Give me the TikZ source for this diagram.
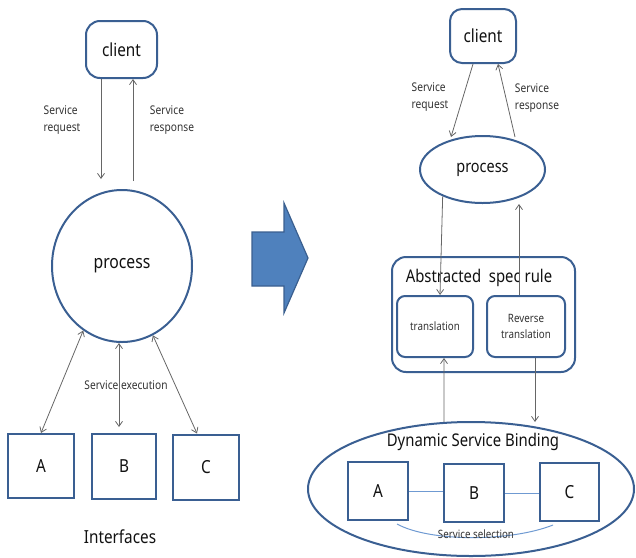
\documentclass[tikz,border=0pt]{standalone}
\usepackage{fontspec}
\setmainfont[FakeStretch=0.85]{Noto Sans}
\usetikzlibrary{arrows.meta,shapes.geometric,calc}
\definecolor{edge}{HTML}{3A5F92}
\definecolor{arrgray}{HTML}{666666}
\definecolor{blockfill}{HTML}{4F81BD}
\definecolor{blockedge}{HTML}{3A5F8F}
\definecolor{selblue}{HTML}{6F9AD2}
\definecolor{txt}{HTML}{111111}
\definecolor{lbl}{HTML}{333333}
\tikzset{
  shp/.style={draw=edge, line width=2pt, inner sep=0pt, text=txt},
  ell/.style={shp, ellipse},
  big/.style={font=\fontsize{18}{20}\selectfont, text=txt},
  mid/.style={font=\fontsize{17.5}{20}\selectfont, text=txt},
  small/.style={font=\fontsize{12}{17}\selectfont, text=lbl, align=left, inner sep=0pt},
  tiny/.style={font=\fontsize{11.5}{16}\selectfont, text=lbl, align=center, inner sep=0pt},
  arr/.style={draw=arrgray, line width=0.8pt, -{Straight Barb[length=5pt,width=7pt]}},
  dbl/.style={draw=arrgray, line width=0.8pt, {Straight Barb[length=5pt,width=7pt]}-{Straight Barb[length=5pt,width=7pt]}},
  sel/.style={draw=selblue, line width=1pt}
}
\begin{document}
\begin{tikzpicture}[x=1pt,y=-1pt]
\useasboundingbox (0,0) rectangle (636,557);
% ---------------- left ----------------
\node[shp, rounded corners=14pt, minimum width=71pt, minimum height=57pt, big] (cL) at (121.5,49.5) {client};
\node[ell, minimum width=140pt, minimum height=152pt, font=\fontsize{18.5}{20}\selectfont] (pL) at (122,266) {process};
\node[shp, minimum width=66pt, minimum height=64pt, big] (aL) at (41,466) {A};
\node[shp, minimum width=64pt, minimum height=65pt, big] (bL) at (124,466.5) {B};
\node[shp, minimum width=66pt, minimum height=65pt, big] (cCL) at (206,467) {C};
\node[big] (intf) at (120,537) {Interfaces};
\node[small] (rqLt) at (62,120) {Service\\request};
\node[small] (rsLt) at (172,120) {Service\\response};
\node[small] (exLt) at (126,385) {Service execution};

\coordinate (rqL) at (101,179);
\coordinate (rsL) at (133,181);
\coordinate (exB) at (119,427);
\draw[arr] (cL.south -| rqL) -- (rqL);
\draw[arr] (rsL) -- (cL.south -| rsL);
\draw[dbl] (pL.239) -- (aL.north);
\draw[dbl] (pL.south -| exB) -- (exB);
\draw[dbl] (pL.294) -- ([xshift=-9pt]cCL.north);

% ---------------- block arrow ----------------
\fill[blockfill, draw=blockedge, line width=1.2pt, line join=miter]
  (252,232) -- (284,232) -- (284,203) -- (308,258) -- (284,313) -- (284,286) -- (252,286) -- cycle;

% ---------------- right ----------------
\node[shp, rounded corners=12pt, minimum width=66pt, minimum height=54pt, big] (cR) at (483,36) {client};
\node[ell, minimum width=125pt, minimum height=67pt, font=\fontsize{17}{20}\selectfont] (pR) at (482.5,169.5) {process};
\node[shp, rounded corners=14pt, minimum width=183pt, minimum height=115pt] (abs) at (483.5,314.5) {};
\node[mid] (absT) at (479,278) {Abstracted\ \ spec rule};
\node[shp, rounded corners=8pt, minimum width=76pt, minimum height=61pt, tiny] (tr) at (435,326.5) {translation};
\node[shp, rounded corners=8pt, minimum width=78pt, minimum height=61pt, tiny] (rtr) at (526,326.5) {Reverse\\translation};
\node[ell, minimum width=326pt, minimum height=134pt] (dsb) at (471,489) {};
\node[mid] (dsbT) at (473,442) {Dynamic Service Binding};
\node[shp, minimum width=60pt, minimum height=58pt, big] (aR) at (378,491) {A};
\node[shp, minimum width=60pt, minimum height=58pt, big] (bR) at (474,493) {B};
\node[shp, minimum width=59pt, minimum height=58pt, big] (cRR) at (569.5,492) {C};
\draw[sel] (aR.east) -- (aR.east -| bR.west);
\draw[sel] (bR.east) -- (bR.east -| cRR.west);
\coordinate (selL) at (397,524);
\coordinate (selR) at (553,525);
\draw[sel] (selL) .. controls (430,542) and (510,542) .. (selR);
\node[tiny] (selT) at (476,534) {Service selection};

\node[small] (rqRt) at (430,97) {Service\\request};
\node[small] (rsRt) at (537,98) {Service\\response};

\coordinate (rqR) at (451,137);
\coordinate (rsR) at (515,137);
\coordinate (upP) at (519,204);
\coordinate (dnD) at (535,422);
\draw[arr] ([xshift=-10pt]cR.south) -- (rqR);
\draw[arr] (rsR) -- ([xshift=15pt]cR.south);
\draw[arr] (pR.214.5) -- ([xshift=5pt]tr.north);
\draw[arr] ([xshift=-7pt]rtr.north) -- (upP);
\draw[arr] (dsb.112) -- ([xshift=9pt]tr.south);
\draw[arr] ([xshift=9pt]rtr.south) -- (dnD);
\end{tikzpicture}
\end{document}
